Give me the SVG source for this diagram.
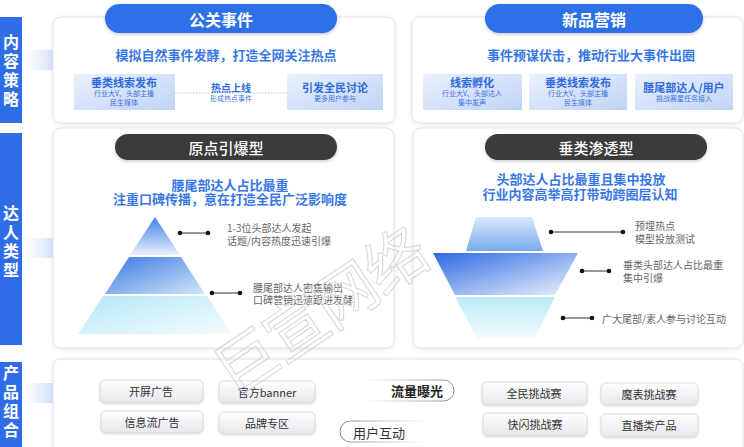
<svg xmlns="http://www.w3.org/2000/svg" width="744" height="447" viewBox="0 0 744 447">
<defs>
<style>
text { font-family: "Noto Sans CJK SC", "Liberation Sans", sans-serif; dominant-baseline: central; }
.side { fill:#2f6de6; }
.sidet { fill:#fff; font-size:16px; font-weight:700; text-anchor:middle; writing-mode:vertical-rl; letter-spacing:3px; }
.panel { fill:#fff; stroke:#dfe4ee; stroke-width:1; filter:url(#sh); }
.bpill { fill:#2f6fe8; filter:url(#sh2); }
.dpill { fill:#3a3a3c; filter:url(#sh2); }
.ptitle { fill:#fff; font-size:16px; font-weight:700; text-anchor:middle; }
.ptitle2 { fill:#fff; font-size:15px; font-weight:500; text-anchor:middle; }
.sub { fill:#3878e6; font-size:13px; font-weight:700; text-anchor:middle; }
.box { fill:url(#boxg); }
.bt { fill:#2f6be0; font-size:11px; font-weight:700; }
.bs { fill:#3a72e0; font-size:7px; font-weight:400; }
.ctr { text-anchor:middle; }
.lbl { fill:#666; font-size:10px; }
.dot { fill:#111; }
.cl { stroke:#333; stroke-width:1; fill:none; }
.btn { fill:url(#btng); stroke:#d2d4da; stroke-width:0.8; filter:url(#sh3); }
.btnt { fill:#333; font-size:11px; text-anchor:middle; }
</style>
<filter id="sh" x="-5%" y="-10%" width="110%" height="120%">
<feDropShadow dx="0" dy="1" stdDeviation="2" flood-color="#8c9bbd" flood-opacity="0.22"/>
</filter>
<filter id="sh2" x="-10%" y="-30%" width="120%" height="160%">
<feDropShadow dx="0" dy="1.5" stdDeviation="1.5" flood-color="#333" flood-opacity="0.25"/>
</filter>
<filter id="sh3" x="-10%" y="-30%" width="120%" height="160%">
<feDropShadow dx="0" dy="1" stdDeviation="1" flood-color="#888" flood-opacity="0.25"/>
</filter>
<linearGradient id="boxg" x1="0" y1="0" x2="1" y2="1">
<stop offset="0" stop-color="#eaf1fc"/>
<stop offset="1" stop-color="#c0d3f6"/>
</linearGradient>
<linearGradient id="btng" x1="0" y1="0" x2="0" y2="1">
<stop offset="0" stop-color="#ffffff"/>
<stop offset="1" stop-color="#e6e7ec"/>
</linearGradient>
<linearGradient id="arrR" x1="0" y1="0" x2="1" y2="0">
<stop offset="0" stop-color="#dce8fb" stop-opacity="0"/>
<stop offset="0.6" stop-color="#c9dbf8"/>
<stop offset="1" stop-color="#a3c1f2"/>
</linearGradient>
<linearGradient id="arrL" x1="1" y1="0" x2="0" y2="0">
<stop offset="0" stop-color="#dce8fb" stop-opacity="0"/>
<stop offset="0.6" stop-color="#c2d6f7"/>
<stop offset="1" stop-color="#8fb3ef"/>
</linearGradient>
<linearGradient id="pillR" x1="0" y1="0" x2="1" y2="0">
<stop offset="0" stop-color="#999" stop-opacity="0"/>
<stop offset="1" stop-color="#888"/>
</linearGradient>
<linearGradient id="pillL" x1="1" y1="0" x2="0" y2="0">
<stop offset="0" stop-color="#999" stop-opacity="0"/>
<stop offset="1" stop-color="#888"/>
</linearGradient>
<linearGradient id="pt1" x1="0" y1="0" x2="0" y2="1">
<stop offset="0" stop-color="#3f7fe6"/>
<stop offset="1" stop-color="#e8f1fc"/>
</linearGradient>
<linearGradient id="pt2" x1="0" y1="0" x2="1" y2="1">
<stop offset="0" stop-color="#3a78e2"/>
<stop offset="1" stop-color="#d3e6f9"/>
</linearGradient>
<linearGradient id="pt3" x1="0" y1="0" x2="1" y2="1">
<stop offset="0" stop-color="#b5e8f7"/>
<stop offset="1" stop-color="#f4fbfe"/>
</linearGradient>
<linearGradient id="ft1" x1="0" y1="0" x2="0" y2="1">
<stop offset="0" stop-color="#dbe9fb"/>
<stop offset="1" stop-color="#78aaec"/>
</linearGradient>
<linearGradient id="ft2" x1="0" y1="0" x2="1" y2="1">
<stop offset="0" stop-color="#2c68e2"/>
<stop offset="1" stop-color="#eef4fd"/>
</linearGradient>
<linearGradient id="ft3" x1="0" y1="0" x2="0" y2="1">
<stop offset="0" stop-color="#b9ecf6"/>
<stop offset="1" stop-color="#f4fafe"/>
</linearGradient>
</defs>
<rect width="744" height="447" fill="#ffffff"/>

<!-- side labels -->
<g id="side-content">
<rect class="side" x="0" y="17" width="22" height="106"/>
<text class="sidet" x="11" y="72">内容策略</text>
</g>
<g id="side-talent">
<rect class="side" x="0" y="133" width="22" height="212"/>
<text class="sidet" x="11" y="243">达人类型</text>
</g>
<g id="side-product">
<rect class="side" x="0" y="362" width="22" height="90"/>
<text class="sidet" x="11" y="403">产品组合</text>
</g>

<!-- arrows -->
<g id="connectors">
<polygon fill="url(#arrR)" points="24,50 62,50 62,38 82,60 62,82 62,70 24,70"/>
<polygon fill="url(#arrR)" points="24,238 62,238 62,224 81,248 62,272 62,258 24,258"/>
<polygon fill="url(#arrR)" points="24,383 58,383 58,370 77,393 58,416 58,403 24,403"/>
<polygon fill="url(#arrL)" points="330,392 354,373 354,384 392,384 392,400 354,400 354,411"/>
<polygon fill="url(#arrR)" points="392,422 432,422 432,411 455,430 432,449 432,438 392,438"/>
</g>

<!-- panel: 公关事件 -->
<g id="pr-event">
<rect class="panel" x="53" y="17" width="342" height="106" rx="8"/>
<rect class="bpill" x="105" y="4" width="232" height="29" rx="14.5"/>
<text class="ptitle" x="221" y="19">公关事件</text>
<text class="sub" x="226" y="54">模拟自然事件发酵，打造全网关注热点</text>
<rect class="box" x="74" y="74" width="101" height="36"/>
<text class="ctr"><tspan class="bt" x="124" y="82">垂类线索发布</tspan><tspan class="bs" x="124" y="93">行业大V、头部主播</tspan><tspan class="bs" x="124" y="102">民生媒体</tspan></text>
<line x1="175" y1="93" x2="287" y2="93" stroke="#c8ccd6" stroke-width="1" stroke-dasharray="1.5,1.5"/>
<text class="ctr"><tspan class="bt" x="231" y="87" style="font-size:10px">热点上线</tspan><tspan class="bs" x="231" y="98">形成热点事件</tspan></text>
<rect class="box" x="287" y="74" width="96" height="36"/>
<text class="ctr"><tspan class="bt" x="335" y="87">引发全民讨论</tspan><tspan class="bs" x="335" y="98">更多用户参与</tspan></text>
</g>

<!-- panel: 新品营销 -->
<g id="new-product">
<rect class="panel" x="412" y="17" width="331" height="106" rx="8"/>
<rect class="bpill" x="485" y="4" width="218" height="29" rx="14.5"/>
<text class="ptitle" x="594" y="19">新品营销</text>
<text class="sub" x="591" y="54">事件预谋伏击，推动行业大事件出圈</text>
<rect class="box" x="423" y="74" width="99" height="36"/>
<text class="ctr"><tspan class="bt" x="472" y="82">线索孵化</tspan><tspan class="bs" x="472" y="93">行业大V、头部达人</tspan><tspan class="bs" x="472" y="102">集中发声</tspan></text>
<rect class="box" x="529" y="74" width="98" height="36"/>
<text class="ctr"><tspan class="bt" x="578" y="82">垂类线索发布</tspan><tspan class="bs" x="578" y="93">行业大V、头部主播</tspan><tspan class="bs" x="578" y="102">民生媒体</tspan></text>
<rect class="box" x="635" y="74" width="98" height="36"/>
<text class="ctr"><tspan class="bt" x="684" y="87">腰尾部达人/用户</tspan><tspan class="bs" x="684" y="98">挑战赛星任务接入</tspan></text>
</g>

<!-- panel: 原点引爆型 -->
<g id="origin-burst">
<rect class="panel" x="53" y="128" width="341" height="220" rx="8"/>
<rect class="dpill" x="115" y="134" width="222" height="26" rx="13"/>
<text class="ptitle2" x="226" y="147">原点引爆型</text>
<text class="sub"><tspan x="230" y="184">腰尾部达人占比最重</tspan><tspan x="230" y="198">注重口碑传播，意在打造全民广泛影响度</tspan></text>
<polygon fill="url(#pt1)" points="155,217 180,255 130,255"/>
<polygon fill="url(#pt2)" points="129,257 181,257 205,294 105,294"/>
<polygon fill="url(#pt3)" points="103,296 207,296 232,334 78,334"/>
<line class="cl" x1="180" y1="233" x2="208" y2="233"/>
<circle class="dot" cx="180" cy="233" r="2.3"/>
<circle class="dot" cx="208" cy="233" r="2.3"/>
<text class="lbl"><tspan x="227" y="227">1-3位头部达人发起</tspan><tspan x="227" y="240">话题/内容热度迅速引爆</tspan></text>
<line class="cl" x1="212" y1="293" x2="240" y2="293"/>
<circle class="dot" cx="212" cy="293" r="2.3"/>
<circle class="dot" cx="240" cy="293" r="2.3"/>
<text class="lbl"><tspan x="253" y="287">腰尾部达人密集输出</tspan><tspan x="253" y="299">口碑营销迅速跟进发酵</tspan></text>
</g>

<!-- panel: 垂类渗透型 -->
<g id="vertical-penetration">
<rect class="panel" x="413" y="128" width="330" height="220" rx="8"/>
<rect class="dpill" x="485" y="134" width="222" height="26" rx="13"/>
<text class="ptitle2" x="596" y="147">垂类渗透型</text>
<text class="sub"><tspan x="581" y="178">头部达人占比最重且集中投放</tspan><tspan x="580" y="193">行业内容高举高打带动跨圈层认知</tspan></text>
<polygon fill="url(#ft1)" points="476,217 532,217 543,251 466,251"/>
<polygon fill="url(#ft2)" points="433,253 578,253 555,295 455,295"/>
<polygon fill="url(#ft3)" points="455,297 555,297 535,338 477,338"/>
<line class="cl" x1="551" y1="232" x2="623" y2="232"/>
<circle class="dot" cx="551" cy="232" r="2.3"/>
<circle class="dot" cx="623" cy="232" r="2.3"/>
<text class="lbl"><tspan x="635" y="225">预埋热点</tspan><tspan x="635" y="238">模型投放测试</tspan></text>
<line class="cl" x1="582" y1="271" x2="609" y2="271"/>
<circle class="dot" cx="582" cy="271" r="2.3"/>
<circle class="dot" cx="609" cy="271" r="2.3"/>
<text class="lbl"><tspan x="623" y="264">垂类头部达人占比最重</tspan><tspan x="623" y="277">集中引爆</tspan></text>
<line class="cl" x1="563" y1="318" x2="592" y2="318"/>
<circle class="dot" cx="563" cy="318" r="2.3"/>
<circle class="dot" cx="592" cy="318" r="2.3"/>
<text class="lbl" x="602" y="318">广大尾部/素人参与讨论互动</text>
</g>

<!-- panel: 产品组合 -->
<g id="products">
<rect class="panel" x="53" y="359" width="690" height="100" rx="8"/>
</g>
<g id="btn-splash"><rect class="btn" x="100" y="380" width="103" height="23" rx="5"/><text class="btnt" x="151" y="391">开屏广告</text></g>
<g id="btn-banner"><rect class="btn" x="219" y="381" width="96" height="22" rx="5"/><text class="btnt" x="267" y="392">官方banner</text></g>
<g id="btn-feed"><rect class="btn" x="101" y="411" width="102" height="22" rx="5"/><text class="btnt" x="152" y="422">信息流广告</text></g>
<g id="btn-brand"><rect class="btn" x="219" y="412" width="96" height="22" rx="5"/><text class="btnt" x="267" y="423">品牌专区</text></g>
<g id="btn-challenge"><rect class="btn" x="482" y="382" width="105" height="23" rx="5"/><text class="btnt" x="534" y="393">全民挑战赛</text></g>
<g id="btn-magic"><rect class="btn" x="601" y="383" width="97" height="22" rx="5"/><text class="btnt" x="649" y="394">魔表挑战赛</text></g>
<g id="btn-flash"><rect class="btn" x="483" y="413" width="104" height="23" rx="5"/><text class="btnt" x="535" y="424">快闪挑战赛</text></g>
<g id="btn-live"><rect class="btn" x="601" y="414" width="97" height="23" rx="5"/><text class="btnt" x="649" y="425">直播类产品</text></g>
<g id="traffic">
<rect x="362" y="380" width="92" height="21" rx="10.5" fill="none" stroke="url(#pillR)" stroke-width="1"/>
<text x="417" y="390" style="fill:#222;font-size:13px;font-weight:700;text-anchor:middle">流量曝光</text>
</g>
<g id="interaction">
<rect x="340" y="421" width="90" height="21" rx="10.5" fill="none" stroke="url(#pillL)" stroke-width="1"/>
<text x="379" y="432" style="fill:#333;font-size:13px;text-anchor:middle">用户互动</text>
</g>

<!-- watermark -->
<text x="318" y="308" transform="rotate(-34 318 308)" style="font-size:62px;fill:none;stroke:#d6d6d6;stroke-width:1;text-anchor:middle;letter-spacing:-2px">巨宣网络</text>
</svg>
